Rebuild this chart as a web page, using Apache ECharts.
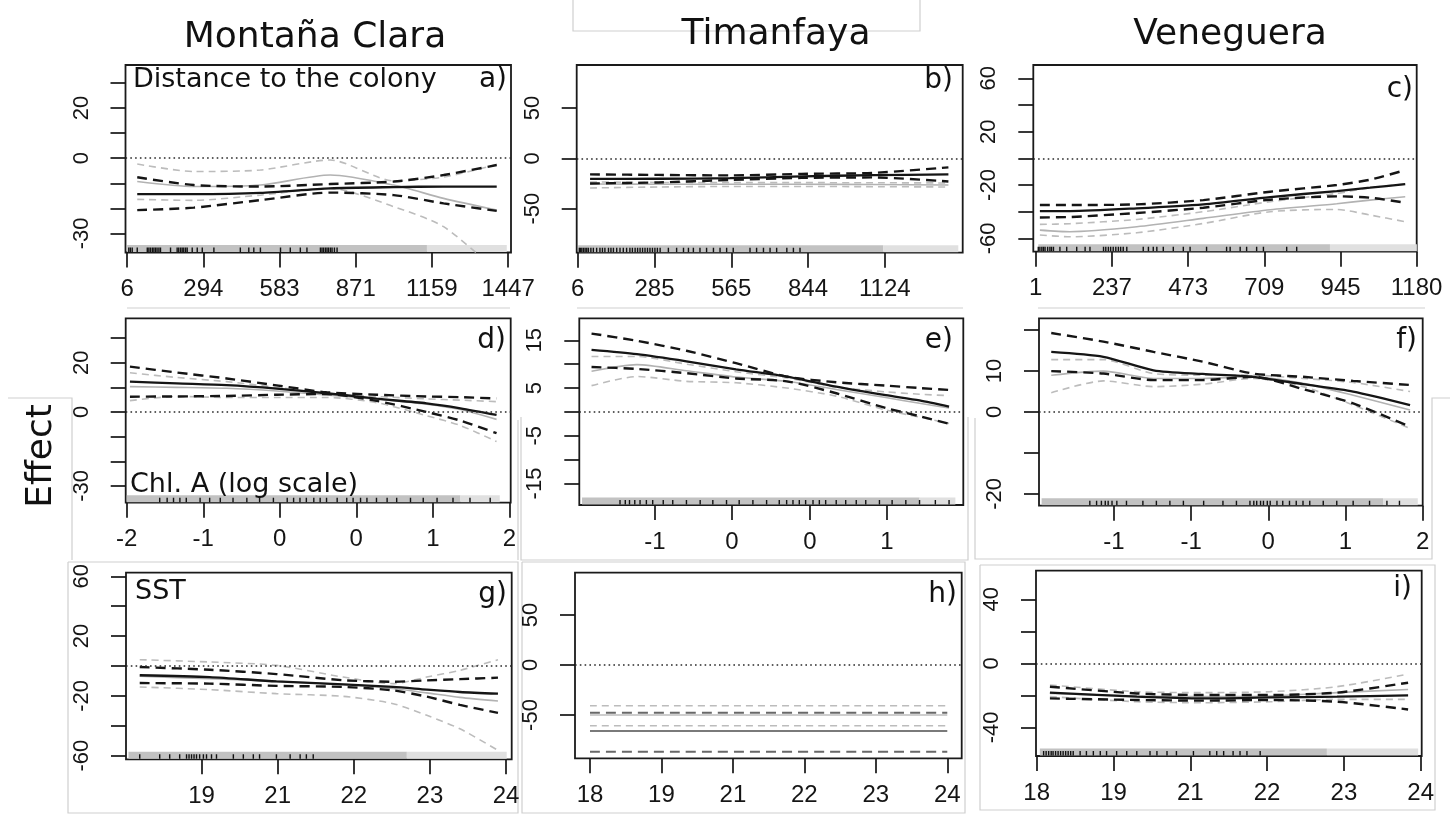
<!DOCTYPE html>
<html>
<head>
<meta charset="utf-8">
<title>Partial effects by colony</title>
<script src="https://cdn.jsdelivr.net/npm/echarts@6/dist/echarts.min.js"></script>
<style>
  html, body { margin: 0; padding: 0; background: #fff; }
  #chart { width: 1450px; height: 815px; }
</style>
</head>
<body>
<div id="chart"></div>
<script>
// ---------- Column and panel text ----------
const colonies = ['Montaña Clara', 'Timanfaya', 'Veneguera'];
const covariates = ['Distance to the colony', 'Chl. A (log scale)', 'SST'];
const panelTags = ['a)', 'b)', 'c)', 'd)', 'e)', 'f)', 'g)', 'h)', 'i)'];
const yTitle = 'Effect';

// ---------- a) Distance to the colony, Montaña Clara ----------
const a_x      = [44, 258, 510, 774, 1014, 1203, 1404];
const a_fitBlk = [-14.3, -14.3, -13.8, -12.0, -11.5, -11.3, -11.3];
const a_hiBlk  = [-7.6, -10.7, -11.3, -10.3, -9.3, -6.7, -2.7];
const a_loBlk  = [-20.7, -19.7, -16.7, -13.7, -14.7, -18.0, -21.0];
const a_fitGry = [-9.3, -11.3, -10.7, -6.7, -10.7, -16.0, -20.7];
const a_hiGry  = [-2.3, -5.3, -4.7, -0.7, -9.0, -7.5, -2.5];
const a_loGry  = [-16.4, -16.8, -14.7, -12.0, -19.3, -27.3, -45.0];
const a_xTicks = [6, 294.2, 582.4, 870.6, 1158.8, 1447];
const a_xLabels = ['6', '294', '583', '871', '1159', '1447'];
const a_yTicks = [-30, -20, -10, 0, 10, 20, 30];
const a_yLabels = [-30, 0, 20];
const a_rugSpan = [6, 1140, 1442];
const a_rug = [12, 18, 25, 44, 82, 88, 94, 101, 107, 113, 119, 126, 132, 170, 195, 201, 208, 214, 220, 227, 233, 252, 271, 290, 334, 434, 466, 485, 510, 586, 623, 661, 686, 737, 743, 749, 756, 762, 768, 775, 781, 790, 800];

// ---------- b) Distance to the colony, Timanfaya ----------
const b_x      = [51, 300, 560, 820, 1080, 1355];
const b_fitBlk = [-20.5, -20.3, -19.8, -18.0, -16.8, -16.0];
const b_hiBlk  = [-16.0, -16.5, -17.0, -15.5, -14.5, -9.0];
const b_loBlk  = [-25.0, -24.0, -21.5, -19.5, -19.0, -23.0];
const b_fitGry = [-25.5, -25.8, -25.8, -25.8, -26.0, -26.5];
const b_hiGry  = [-23.5, -24.0, -24.2, -24.2, -24.3, -24.5];
const b_loGry  = [-29.5, -28.5, -28.0, -28.0, -28.2, -28.5];
const b_xTicks = [6, 285.4, 564.8, 844.2, 1123.6];
const b_xLabels = ['6', '285', '565', '844', '1124'];
const b_yTicks = [-50, 0, 50];
const b_yLabels = [-50, 0, 50];
const b_rugSpan = [8, 1118, 1391];
const b_rug = [12, 16, 21, 27, 33, 39, 45, 54, 63, 75, 87, 96, 105, 118, 127, 136, 148, 160, 172, 184, 196, 205, 215, 224, 233, 242, 251, 260, 269, 278, 287, 296, 306, 336, 366, 391, 409, 427, 451, 475, 500, 524, 548, 572, 633, 657, 682, 706, 730, 767, 791, 815];

// ---------- c) Distance to the colony, Veneguera ----------
const c_x      = [14, 107, 314, 520, 727, 933, 1036, 1145];
const c_fitBlk = [-39.5, -39.5, -37.5, -34.5, -29.0, -24.5, -22.0, -19.3];
const c_hiBlk  = [-35.0, -35.0, -34.5, -31.3, -25.0, -20.0, -16.0, -8.8];
const c_loBlk  = [-44.3, -44.0, -41.0, -37.0, -31.0, -28.5, -29.5, -33.3];
const c_fitGry = [-53.8, -55.0, -51.3, -45.0, -38.5, -34.0, -31.3, -28.8];
const c_hiGry  = [-49.5, -49.0, -45.8, -40.0, -32.5, -26.3, -22.0, -19.3];
const c_loGry  = [-57.5, -58.8, -55.8, -48.8, -40.0, -38.3, -42.5, -47.5];
const c_xTicks = [1, 237, 473, 709, 945, 1180];
const c_xLabels = ['1', '237', '473', '709', '945', '1180'];
const c_yTicks = [-60, -40, -20, 0, 20, 40, 60];
const c_yLabels = [-60, -20, 20, 60];
const c_rugSpan = [9, 912, 1181];
const c_rug = [9, 14, 20, 25, 30, 38, 45, 50, 56, 76, 97, 128, 154, 169, 211, 218, 226, 233, 241, 249, 257, 264, 272, 283, 334, 350, 365, 376, 396, 427, 458, 479, 530, 592, 603, 634, 654, 685, 706, 778, 809];

// ---------- d) Chl. A, Montaña Clara ----------
const d_x      = [-1.77, -1.33, -0.86, -0.39, 0.08, 0.55, 1.02, 1.34, 1.68];
const d_fitBlk = [12.3, 11.6, 10.9, 9.5, 7.6, 5.4, 3.5, 1.5, -1.2];
const d_hiBlk  = [18.4, 16.0, 13.6, 10.8, 8.0, 7.0, 6.3, 6.0, 5.5];
const d_loBlk  = [6.2, 6.3, 6.5, 7.0, 7.3, 4.5, 0.0, -3.5, -8.6];
const d_fitGry = [10.3, 10.0, 9.6, 8.5, 6.9, 5.2, 3.2, 1.0, -3.0];
const d_hiGry  = [15.9, 14.0, 12.3, 10.0, 7.6, 6.3, 5.3, 4.8, 4.2];
const d_loGry  = [4.6, 6.3, 5.9, 5.9, 5.9, 3.8, -1.5, -5.5, -12.0];
const d_xTicks = [-1.8, -1.08, -0.36, 0.36, 1.08, 1.8];
const d_xLabels = ['-2', '-1', '0', '0', '1', '2'];
const d_yTicks = [-30, -20, -10, 0, 10, 20, 30];
const d_yLabels = [-30, 0, 20];
const d_rugSpan = [-1.8, 1.34, 1.71];
const d_rug = [-1.49, -1.42, -1.36, -1.30, -1.24, -1.11, -1.02, -0.92, -0.80, -0.67, -0.55, -0.42, -0.29, -0.23, -0.17, -0.11, -0.04, 0.02, 0.08, 0.18, 0.27, 0.33, 0.40, 0.46, 0.55, 0.65, 0.74, 0.87, 0.99, 1.12, 1.27, 1.43, 1.62];

// ---------- e) Chl. A, Timanfaya ----------
const e_x      = [-1.70, -1.27, -0.80, -0.33, 0.15, 0.62, 1.09, 1.41, 1.69];
const e_fitBlk = [13.0, 12.1, 10.6, 8.9, 7.4, 5.3, 3.5, 2.4, 1.1];
const e_hiBlk  = [16.4, 14.9, 12.8, 10.2, 7.4, 6.2, 5.5, 5.0, 4.6];
const e_loBlk  = [9.4, 9.0, 8.1, 7.0, 6.4, 3.9, 0.8, -0.9, -2.5];
const e_fitGry = [8.5, 9.9, 8.6, 7.3, 6.4, 4.7, 3.0, 1.8, 0.8];
const e_hiGry  = [11.6, 11.6, 10.0, 8.4, 7.1, 5.2, 4.2, 3.7, 3.4];
const e_loGry  = [5.5, 7.4, 6.4, 6.1, 5.0, 3.3, 0.4, -1.1, -2.4];
const e_xTicks = [-1.1, -0.37, 0.37, 1.1];
const e_xLabels = ['-1', '0', '0', '1'];
const e_yTicks = [-15, -10, -5, 0, 5, 10, 15];
const e_yLabels = [-15, -5, 5, 15];
const e_rugSpan = [-1.79, 1.41, 1.75];
const e_rug = [-1.43, -1.38, -1.34, -1.29, -1.24, -1.18, -1.12, -1.02, -0.93, -0.80, -0.67, -0.55, -0.42, -0.30, -0.17, -0.04, 0.08, 0.15, 0.21, 0.27, 0.33, 0.40, 0.46, 0.52, 0.62, 0.71, 0.81, 0.90, 1.03, 1.15, 1.28, 1.41, 1.56, 1.69];

// ---------- f) Chl. A, Veneguera ----------
const f_x      = [-2.05, -1.51, -0.99, -0.48, 0.04, 0.56, 1.08, 1.67];
const f_fitBlk = [14.7, 13.5, 10.2, 9.3, 8.6, 6.8, 5.0, 1.7];
const f_hiBlk  = [19.3, 17.2, 14.7, 12.3, 9.4, 8.6, 7.6, 6.6];
const f_loBlk  = [10.0, 9.4, 7.8, 7.8, 8.6, 5.6, 2.1, -3.6];
const f_fitGry = [9.0, 10.0, 8.2, 8.2, 8.6, 7.0, 4.1, 0.5];
const f_hiGry  = [12.8, 12.8, 9.4, 9.0, 9.0, 8.2, 7.2, 5.0];
const f_loGry  = [4.7, 7.6, 6.2, 6.8, 8.2, 6.2, 1.7, -4.0];
const f_xTicks = [-1.4, -0.6, 0.2, 1.0, 1.8];
const f_xLabels = ['-1', '-1', '0', '1', '2'];
const f_yTicks = [-20, -10, 0, 10, 20];
const f_yLabels = [-20, 0, 10];
const f_rugSpan = [-2.15, 1.39, 1.75];
const f_rug = [-1.65, -1.58, -1.53, -1.49, -1.46, -1.42, -1.37, -1.27, -1.10, -0.96, -0.82, -0.68, -0.47, -0.27, -0.13, 0.01, 0.05, 0.08, 0.12, 0.15, 0.19, 0.22, 0.29, 0.35, 0.42, 0.49, 0.56, 0.63, 0.77, 0.91, 1.08, 1.25, 1.43, 1.56];

// ---------- g) SST, Montaña Clara ----------
const g_x      = [18.33, 19.45, 20.52, 21.59, 22.39, 22.93, 23.46, 24.07];
const g_fitBlk = [-6.2, -7.4, -10.3, -12.3, -14.0, -15.8, -17.4, -18.5];
const g_hiBlk  = [-0.7, -2.5, -5.4, -9.5, -10.5, -9.6, -8.8, -7.8];
const g_loBlk  = [-11.4, -11.8, -13.3, -14.0, -16.3, -20.5, -26.0, -31.4];
const g_fitGry = [-6.9, -8.5, -10.3, -12.3, -15.0, -18.0, -21.0, -23.4];
const g_hiGry  = [4.2, 2.7, 0.4, -7.4, -11.8, -7.4, -2.9, 4.2];
const g_loGry  = [-14.0, -15.8, -18.5, -20.3, -25.2, -33.0, -42.0, -56.4];
const g_xTicks = [19.32, 20.54, 21.76, 22.98, 24.2];
const g_xLabels = ['19', '21', '22', '23', '24'];
const g_yTicks = [-60, -40, -20, 0, 20, 40, 60];
const g_yLabels = [-60, -20, 20, 60];
const g_rugSpan = [18.15, 22.61, 24.21];
const g_rug = [18.33, 18.65, 18.81, 18.97, 19.08, 19.12, 19.16, 19.20, 19.24, 19.29, 19.35, 19.40, 19.48, 19.56, 19.83, 19.99, 20.15, 20.25, 20.52, 20.74, 20.90, 21.00, 21.11];

// ---------- h) SST, Timanfaya (constant effect) ----------
const h_x      = [18.1, 24.2];
const h_fitBlk = [-66.0, -66.0];
const h_hiBlk  = [-47.7, -47.7];
const h_loBlk  = [-86.7, -86.7];
const h_fitGry = [-50.0, -50.0];
const h_hiGry  = [-40.7, -40.7];
const h_loGry  = [-60.7, -60.7];
const h_xTicks = [18.1, 19.32, 20.54, 21.76, 22.98, 24.2];
const h_xLabels = ['18', '19', '21', '22', '23', '24'];
const h_yTicks = [-50, 0, 50];
const h_yLabels = [-50, 0, 50];

// ---------- i) SST, Veneguera ----------
const i_x      = [18.31, 19.69, 20.75, 21.81, 22.87, 24.0];
const i_fitBlk = [-18.3, -20.8, -21.9, -21.3, -20.8, -20.0];
const i_hiBlk  = [-14.6, -18.8, -19.8, -19.8, -18.3, -12.1];
const i_loBlk  = [-21.9, -22.9, -23.3, -22.9, -24.0, -28.8];
const i_fitGry = [-18.8, -20.4, -20.8, -20.4, -18.3, -16.3];
const i_hiGry  = [-13.5, -17.7, -18.3, -17.7, -14.6, -6.7];
const i_loGry  = [-20.8, -24.0, -24.6, -24.0, -22.5, -22.5];
const i_xTicks = [18.1, 19.32, 20.54, 21.76, 22.98, 24.2];
const i_xLabels = ['18', '19', '21', '22', '23', '24'];
const i_yTicks = [-40, -20, 0, 20, 40];
const i_yLabels = [-40, 0, 40];
const i_rugSpan = [18.15, 22.71, 24.16];
const i_rug = [18.21, 18.25, 18.29, 18.33, 18.36, 18.40, 18.44, 18.48, 18.52, 18.56, 18.60, 18.64, 18.68, 18.79, 18.89, 19.00, 19.11, 19.21, 19.37, 19.53, 19.69, 19.90, 20.01, 20.17, 20.32, 20.59, 20.85, 20.96, 21.07, 21.22, 21.33, 21.44, 21.65];

// ---------- panel layout: plot box (left, top, width, height) and axis ranges ----------
const panels = [
  { box: [125.5, 65, 385.5, 187.5],  xr: [-0.4, 1458],     yr: [-37.6, 37.2],
    x: a_x, fb: a_fitBlk, hb: a_hiBlk, lb: a_loBlk, fg: a_fitGry, hg: a_hiGry, lg: a_loGry,
    xt: a_xTicks, xl: a_xLabels, yt: a_yTicks, yl: a_yLabels, rugSpan: a_rugSpan, rug: a_rug },
  { box: [576.7, 65, 386, 187.7],    xr: [2.4, 1407],      yr: [-93.8, 92.7],
    x: b_x, fb: b_fitBlk, hb: b_hiBlk, lb: b_loBlk, fg: b_fitGry, hg: b_hiGry, lg: b_loGry,
    xt: b_xTicks, xl: b_xLabels, yt: b_yTicks, yl: b_yLabels, rugSpan: b_rugSpan, rug: b_rug },
  { box: [1033.3, 65, 383.4, 186.7], xr: [-6.4, 1180.5],   yr: [-70, 70],
    x: c_x, fb: c_fitBlk, hb: c_hiBlk, lb: c_loBlk, fg: c_fitGry, hg: c_hiGry, lg: c_loGry,
    xt: c_xTicks, xl: c_xLabels, yt: c_yTicks, yl: c_yLabels, rugSpan: c_rugSpan, rug: c_rug },
  { box: [125.7, 318.3, 385, 184.4], xr: [-1.81, 1.813],   yr: [-36.8, 38],
    x: d_x, fb: d_fitBlk, hb: d_hiBlk, lb: d_loBlk, fg: d_fitGry, hg: d_hiGry, lg: d_loGry,
    xt: d_xTicks, xl: d_xLabels, yt: d_yTicks, yl: d_yLabels, rugSpan: d_rugSpan, rug: d_rug },
  { box: [579.3, 318.3, 384, 186.7], xr: [-1.816, 1.825],  yr: [-19.5, 19.6],
    x: e_x, fb: e_fitBlk, hb: e_hiBlk, lb: e_loBlk, fg: e_fitGry, hg: e_hiGry, lg: e_loGry,
    xt: e_xTicks, xl: e_xLabels, yt: e_yTicks, yl: e_yLabels, rugSpan: e_rugSpan, rug: e_rug },
  { box: [1039, 318.3, 383.7, 187.4], xr: [-2.177, 1.801], yr: [-22.9, 22.9],
    x: f_x, fb: f_fitBlk, hb: f_hiBlk, lb: f_loBlk, fg: f_fitGry, hg: f_hiGry, lg: f_loGry,
    xt: f_xTicks, xl: f_xLabels, yt: f_yTicks, yl: f_yLabels, rugSpan: f_rugSpan, rug: f_rug },
  { box: [126, 572.7, 385.7, 186.6], xr: [18.11, 24.29],   yr: [-62.4, 62.4],
    x: g_x, fb: g_fitBlk, hb: g_hiBlk, lb: g_loBlk, fg: g_fitGry, hg: g_hiGry, lg: g_loGry,
    xt: g_xTicks, xl: g_xLabels, yt: g_yTicks, yl: g_yLabels, rugSpan: g_rugSpan, rug: g_rug },
  { box: [575, 572.7, 386.7, 185.6], xr: [17.844, 24.446], yr: [-93.3, 92.3], muted: true,
    x: h_x, fb: h_fitBlk, hb: h_hiBlk, lb: h_loBlk, fg: h_fitGry, hg: h_hiGry, lg: h_loGry,
    xt: h_xTicks, xl: h_xLabels, yt: h_yTicks, yl: h_yLabels, rugSpan: null, rug: null },
  { box: [1036, 570.7, 385.7, 185.3], xr: [18.089, 24.216], yr: [-57.9, 57.9],
    x: i_x, fb: i_fitBlk, hb: i_hiBlk, lb: i_loBlk, fg: i_fitGry, hg: i_hiGry, lg: i_loGry,
    xt: i_xTicks, xl: i_xLabels, yt: i_yTicks, yl: i_yLabels, rugSpan: i_rugSpan, rug: i_rug }
];

// ---------- styles ----------
const INK = '#151515';
const GREY = '#b2b2b2';
const GREY_DASH = '#bcbcbc';
const TICK_FONT = 'Liberation Sans, Arial, sans-serif';
const NOTE_FONT = 'DejaVu Sans, Verdana, sans-serif';

const grids = [], xAxes = [], yAxes = [], series = [];

function pairs(xs, ys) { return xs.map((x, i) => [x, ys[i]]); }

function curve(k, xs, ys, color, width, dash, z) {
  return {
    type: 'line', xAxisIndex: k, yAxisIndex: k, data: pairs(xs, ys),
    symbol: 'none', smooth: 0.25, clip: true, silent: true, z: z,
    lineStyle: { color: color, width: width, type: dash || 'solid' }
  };
}

// rug: a dense grey band of observations with a sparser tail
function rugBand(params, api) {
  const cs = params.coordSys;
  const x0 = api.coord([api.value(0), 0])[0];
  const x1 = api.coord([api.value(1), 0])[0];
  const yb = cs.y + cs.height;
  return {
    type: 'rect',
    shape: { x: x0, y: yb - 7.5, width: x1 - x0, height: 7 },
    style: { fill: params.dataIndex === 0 ? '#c2c2c2' : '#e0e0e0' }
  };
}

// rug: individual dark observation ticks
function rugTick(params, api) {
  const cs = params.coordSys;
  const x = api.coord([api.value(0), 0])[0];
  const yb = cs.y + cs.height;
  return {
    type: 'line',
    shape: { x1: x, y1: yb - 0.5, x2: x, y2: yb - 5 },
    style: { stroke: '#111', lineWidth: 1.4 }
  };
}

panels.forEach((p, k) => {
  grids.push({
    left: p.box[0], top: p.box[1], width: p.box[2], height: p.box[3],
    show: true, borderColor: '#1a1a1a', borderWidth: 1.8, backgroundColor: 'transparent',
    outerBoundsMode: 'none', containLabel: false
  });
  const xt = p.xt, xl = p.xl;
  xAxes.push({
    type: 'value', gridIndex: k, min: p.xr[0], max: p.xr[1], position: 'bottom',
    axisLine: { show: false, onZero: false }, splitLine: { show: false },
    axisTick: { show: true, length: 15, customValues: xt, lineStyle: { color: INK, width: 1.7 } },
    axisLabel: {
      customValues: xt, margin: 25, fontSize: 24, fontFamily: TICK_FONT, color: INK,
      formatter: function (v) {
        let j = -1, best = Infinity;
        xt.forEach((t, n) => { const d = Math.abs(t - v); if (d < best) { best = d; j = n; } });
        return j >= 0 ? xl[j] : '';
      }
    }
  });
  yAxes.push({
    type: 'value', gridIndex: k, min: p.yr[0], max: p.yr[1], position: 'left',
    axisLine: { show: false, onZero: false }, splitLine: { show: false },
    axisTick: { show: true, length: 15, customValues: p.yt, lineStyle: { color: INK, width: 1.7 } },
    axisLabel: {
      customValues: p.yl, rotate: 90, margin: 33, fontSize: 22, fontFamily: TICK_FONT, color: INK,
      formatter: v => String(Math.round(v))
    }
  });

  if (p.rugSpan) {
    series.push({
      type: 'custom', xAxisIndex: k, yAxisIndex: k, silent: true, clip: true, z: 1,
      renderItem: rugBand,
      data: [[p.rugSpan[0], p.rugSpan[1]], [p.rugSpan[1], p.rugSpan[2]]]
    });
    series.push({
      type: 'custom', xAxisIndex: k, yAxisIndex: k, silent: true, clip: true, z: 2,
      renderItem: rugTick,
      data: p.rug.map(v => [v, 0])
    });
  }

  const dark = p.muted ? '#7a7a7a' : INK;
  const darkDash = p.muted ? '#686868' : INK;
  const greyFit = p.muted ? '#bdbdbd' : GREY;

  const zero = curve(k, p.x, p.fg, greyFit, 1.6, null, 3);
  zero.markLine = {
    silent: true, symbol: 'none', animation: false,
    label: { show: false },
    lineStyle: { color: '#2a2a2a', width: 1.6, type: [1.6, 3.2] },
    data: [{ yAxis: 0 }]
  };
  series.push(zero);
  series.push(curve(k, p.x, p.hg, GREY_DASH, 1.6, [7, 5], 3));
  series.push(curve(k, p.x, p.lg, GREY_DASH, 1.6, [7, 5], 3));
  series.push(curve(k, p.x, p.fb, dark, p.muted ? 2 : 2.3, null, 4));
  series.push(curve(k, p.x, p.hb, darkDash, p.muted ? 2 : 2.4, [10, 6], 4));
  series.push(curve(k, p.x, p.lb, darkDash, p.muted ? 2 : 2.4, [10, 6], 4));
});

// ---------- text and panel frames ----------
function note(text, x, baseline, align, size) {
  return {
    type: 'text', x: x, y: baseline - 0.3 * size, silent: true, z: 10,
    style: { text: text, fill: '#111', fontSize: size, fontFamily: NOTE_FONT,
             textAlign: align, textVerticalAlign: 'middle' }
  };
}
function frame(points) {
  return {
    type: 'polyline', silent: true, z: -5,
    shape: { points: points },
    style: { stroke: '#cfcfcf', lineWidth: 1.2, fill: null }
  };
}

const graphics = [
  // faint frames around the assembled sub-figures
  frame([[573, 0], [573, 31], [920, 31], [920, 0]]),
  frame([[127, 308], [510, 308]]),
  frame([[577, 308], [963, 308]]),
  frame([[1038, 308], [1425, 308]]),
  frame([[8, 398], [72, 398], [72, 560]]),
  frame([[518, 420], [518, 560]]),
  frame([[521, 417], [521, 560], [968, 560], [968, 417]]),
  frame([[975, 418], [975, 559], [1432, 559], [1432, 398], [1450, 398]]),
  frame([[68, 562], [518, 562], [518, 813], [68, 813], [68, 562]]),
  frame([[522, 562], [965, 562], [965, 813], [522, 813], [522, 562]]),
  frame([[980, 565], [1435, 565], [1435, 810], [980, 810], [980, 565]]),

  // column titles
  note(colonies[0], 315, 48, 'center', 36),
  note(colonies[1], 776, 45, 'center', 36),
  note(colonies[2], 1230, 45, 'center', 36),

  // shared y-axis title
  {
    type: 'text', x: 42, y: 456, rotation: Math.PI / 2, silent: true, z: 10,
    style: { text: yTitle, fill: '#111', fontSize: 36, fontFamily: NOTE_FONT,
             textAlign: 'center', textVerticalAlign: 'middle' }
  },

  // covariate names
  note(covariates[0], 133, 88, 'left', 27),
  note(covariates[1], 130, 493, 'left', 27),
  note(covariates[2], 135, 600, 'left', 27),

  // panel tags
  note(panelTags[0], 507, 88, 'right', 28),
  note(panelTags[1], 953, 89, 'right', 28),
  note(panelTags[2], 1413, 98, 'right', 28),
  note(panelTags[3], 506, 349, 'right', 28),
  note(panelTags[4], 953, 349, 'right', 28),
  note(panelTags[5], 1417, 349, 'right', 28),
  note(panelTags[6], 507, 603, 'right', 28),
  note(panelTags[7], 957, 603, 'right', 28),
  note(panelTags[8], 1412, 597, 'right', 28)
];

const chart = echarts.init(document.getElementById('chart'), null, { renderer: 'canvas' });
chart.setOption({
  animation: false,
  backgroundColor: '#ffffff',
  grid: grids,
  xAxis: xAxes,
  yAxis: yAxes,
  series: series,
  graphic: { elements: graphics }
});
</script>
</body>
</html>
